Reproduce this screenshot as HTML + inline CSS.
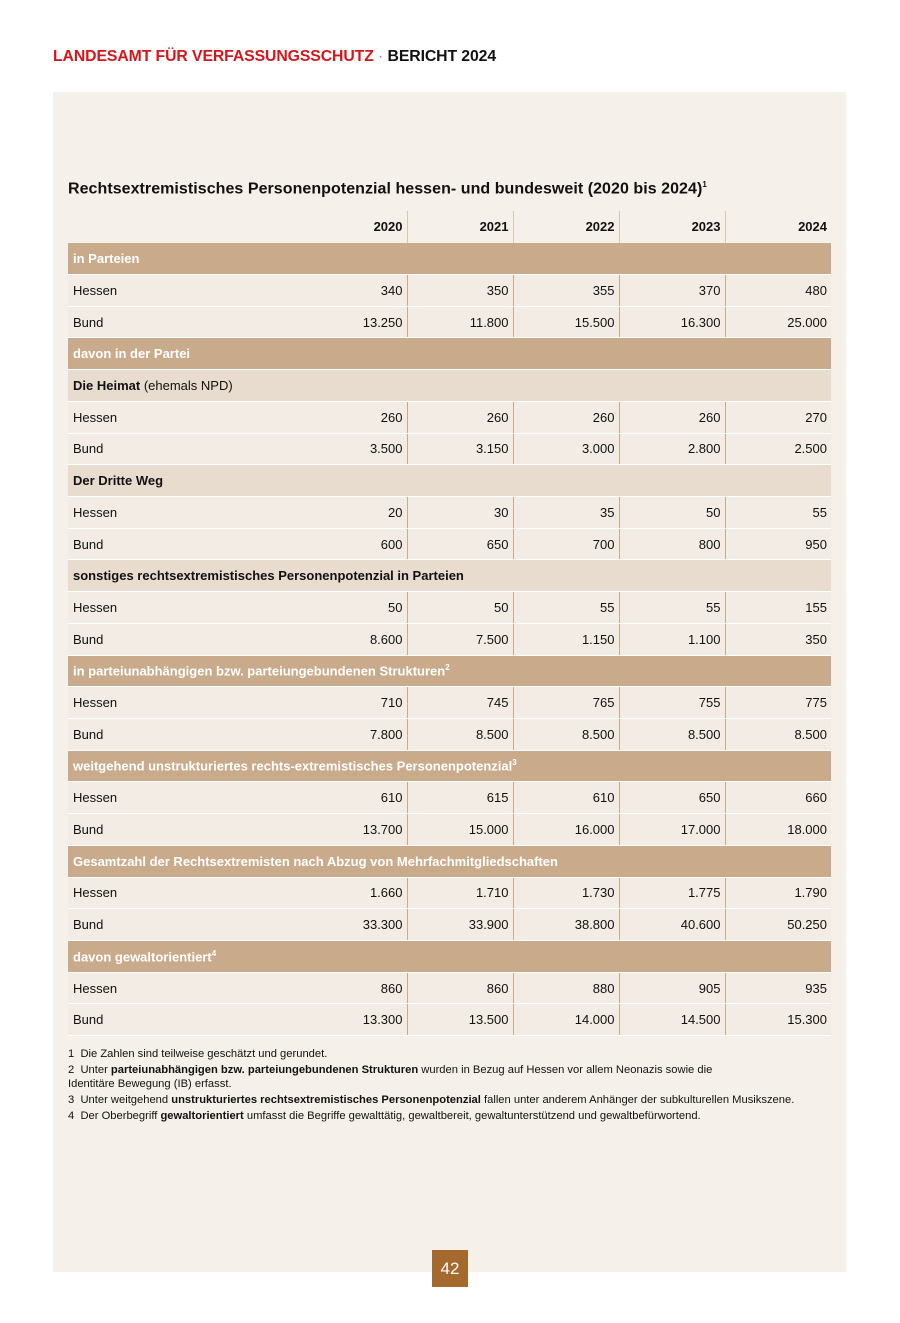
<!DOCTYPE html>
<html><head><meta charset="utf-8"><style>
*{margin:0;padding:0;box-sizing:border-box}
body{width:900px;height:1323px;background:#fff;font-family:"Liberation Sans",sans-serif;position:relative;color:#111}
.hd{position:absolute;left:53px;top:48px;font-size:15.8px;font-weight:bold;color:#d7141a;letter-spacing:-0.1px}
.hd b{color:#111}
.panel{position:absolute;left:53px;top:92px;width:793px;height:1180px;background:#f5f0ea}
.title{position:absolute;left:68px;top:180px;font-size:16px;font-weight:bold;letter-spacing:0.05px}
table{position:absolute;left:68px;top:211px;border-collapse:collapse;width:763px;font-size:13px;table-layout:fixed}
td{height:31.72px;padding:0 4px 0 5px;border-bottom:1px solid #fff;white-space:nowrap}
td.n{text-align:right;border-left:1px solid #c9ab8b}
td.f{text-align:right;border-left:none}
tr.h td{font-weight:bold;background:transparent;border-bottom:none}
tr.h td.n{border-left:1px solid #d9c6b0}
tr.s td{background:#c9ab8b;color:#fff;font-weight:bold;border-left:none}
tr.l td{background:#e8dccf;font-weight:bold;border-left:none}
tr.d td{background:#f2ece4}
sup{font-size:8px}
.fn{position:absolute;left:68px;top:1047px;font-size:11.2px;line-height:14.6px;width:780px}
.fn p{margin-bottom:1.3px}
.pg{position:absolute;left:432px;top:1250px;width:36px;height:37px;background:#a5692e;color:#fff;font-size:17px;text-align:center;line-height:37px}
</style></head><body>
<div class="hd">LANDESAMT FÜR VERFASSUNGSSCHUTZ <span style="color:#888;font-weight:normal">·</span> <b>BERICHT 2024</b></div>
<div class="panel"></div>
<div class="title">Rechtsextremistisches Personenpotenzial hessen- und bundesweit (2020 bis 2024)<sup>1</sup></div>
<table>
<colgroup><col style="width:233px"><col style="width:106px"><col style="width:106px"><col style="width:106px"><col style="width:106px"><col style="width:106px"></colgroup>
<tr class="h"><td></td><td class="f">2020</td><td class="n">2021</td><td class="n">2022</td><td class="n">2023</td><td class="n">2024</td></tr>
<tr class="s"><td colspan="6">in Parteien</td></tr>
<tr class="d"><td>Hessen</td><td class="f">340</td><td class="n">350</td><td class="n">355</td><td class="n">370</td><td class="n">480</td></tr>
<tr class="d"><td>Bund</td><td class="f">13.250</td><td class="n">11.800</td><td class="n">15.500</td><td class="n">16.300</td><td class="n">25.000</td></tr>
<tr class="s"><td colspan="6">davon in der Partei</td></tr>
<tr class="l"><td colspan="6">Die Heimat <span style="font-weight:normal">(ehemals NPD)</span></td></tr>
<tr class="d"><td>Hessen</td><td class="f">260</td><td class="n">260</td><td class="n">260</td><td class="n">260</td><td class="n">270</td></tr>
<tr class="d"><td>Bund</td><td class="f">3.500</td><td class="n">3.150</td><td class="n">3.000</td><td class="n">2.800</td><td class="n">2.500</td></tr>
<tr class="l"><td colspan="6">Der Dritte Weg</td></tr>
<tr class="d"><td>Hessen</td><td class="f">20</td><td class="n">30</td><td class="n">35</td><td class="n">50</td><td class="n">55</td></tr>
<tr class="d"><td>Bund</td><td class="f">600</td><td class="n">650</td><td class="n">700</td><td class="n">800</td><td class="n">950</td></tr>
<tr class="l"><td colspan="6">sonstiges rechtsextremistisches Personenpotenzial in Parteien</td></tr>
<tr class="d"><td>Hessen</td><td class="f">50</td><td class="n">50</td><td class="n">55</td><td class="n">55</td><td class="n">155</td></tr>
<tr class="d"><td>Bund</td><td class="f">8.600</td><td class="n">7.500</td><td class="n">1.150</td><td class="n">1.100</td><td class="n">350</td></tr>
<tr class="s"><td colspan="6">in parteiunabhängigen bzw. parteiungebundenen Strukturen<sup>2</sup></td></tr>
<tr class="d"><td>Hessen</td><td class="f">710</td><td class="n">745</td><td class="n">765</td><td class="n">755</td><td class="n">775</td></tr>
<tr class="d"><td>Bund</td><td class="f">7.800</td><td class="n">8.500</td><td class="n">8.500</td><td class="n">8.500</td><td class="n">8.500</td></tr>
<tr class="s"><td colspan="6">weitgehend unstrukturiertes rechts-extremistisches Personenpotenzial<sup>3</sup></td></tr>
<tr class="d"><td>Hessen</td><td class="f">610</td><td class="n">615</td><td class="n">610</td><td class="n">650</td><td class="n">660</td></tr>
<tr class="d"><td>Bund</td><td class="f">13.700</td><td class="n">15.000</td><td class="n">16.000</td><td class="n">17.000</td><td class="n">18.000</td></tr>
<tr class="s"><td colspan="6">Gesamtzahl der Rechtsextremisten nach Abzug von Mehrfachmitgliedschaften</td></tr>
<tr class="d"><td>Hessen</td><td class="f">1.660</td><td class="n">1.710</td><td class="n">1.730</td><td class="n">1.775</td><td class="n">1.790</td></tr>
<tr class="d"><td>Bund</td><td class="f">33.300</td><td class="n">33.900</td><td class="n">38.800</td><td class="n">40.600</td><td class="n">50.250</td></tr>
<tr class="s"><td colspan="6">davon gewaltorientiert<sup>4</sup></td></tr>
<tr class="d"><td>Hessen</td><td class="f">860</td><td class="n">860</td><td class="n">880</td><td class="n">905</td><td class="n">935</td></tr>
<tr class="d"><td>Bund</td><td class="f">13.300</td><td class="n">13.500</td><td class="n">14.000</td><td class="n">14.500</td><td class="n">15.300</td></tr>
</table>
<div class="fn">
<p>1&nbsp; Die Zahlen sind teilweise geschätzt und gerundet.</p>
<p>2&nbsp; Unter <b>parteiunabhängigen bzw. parteiungebundenen Strukturen</b> wurden in Bezug auf Hessen vor allem Neonazis sowie die<br>Identitäre Bewegung (IB) erfasst.</p>
<p>3&nbsp; Unter weitgehend <b>unstrukturiertes rechtsextremistisches Personenpotenzial</b> fallen unter anderem Anhänger der subkulturellen Musikszene.</p>
<p>4&nbsp; Der Oberbegriff <b>gewaltorientiert</b> umfasst die Begriffe gewalttätig, gewaltbereit, gewaltunterstützend und gewaltbefürwortend.</p>
</div>
<div class="pg">42</div>
</body></html>
